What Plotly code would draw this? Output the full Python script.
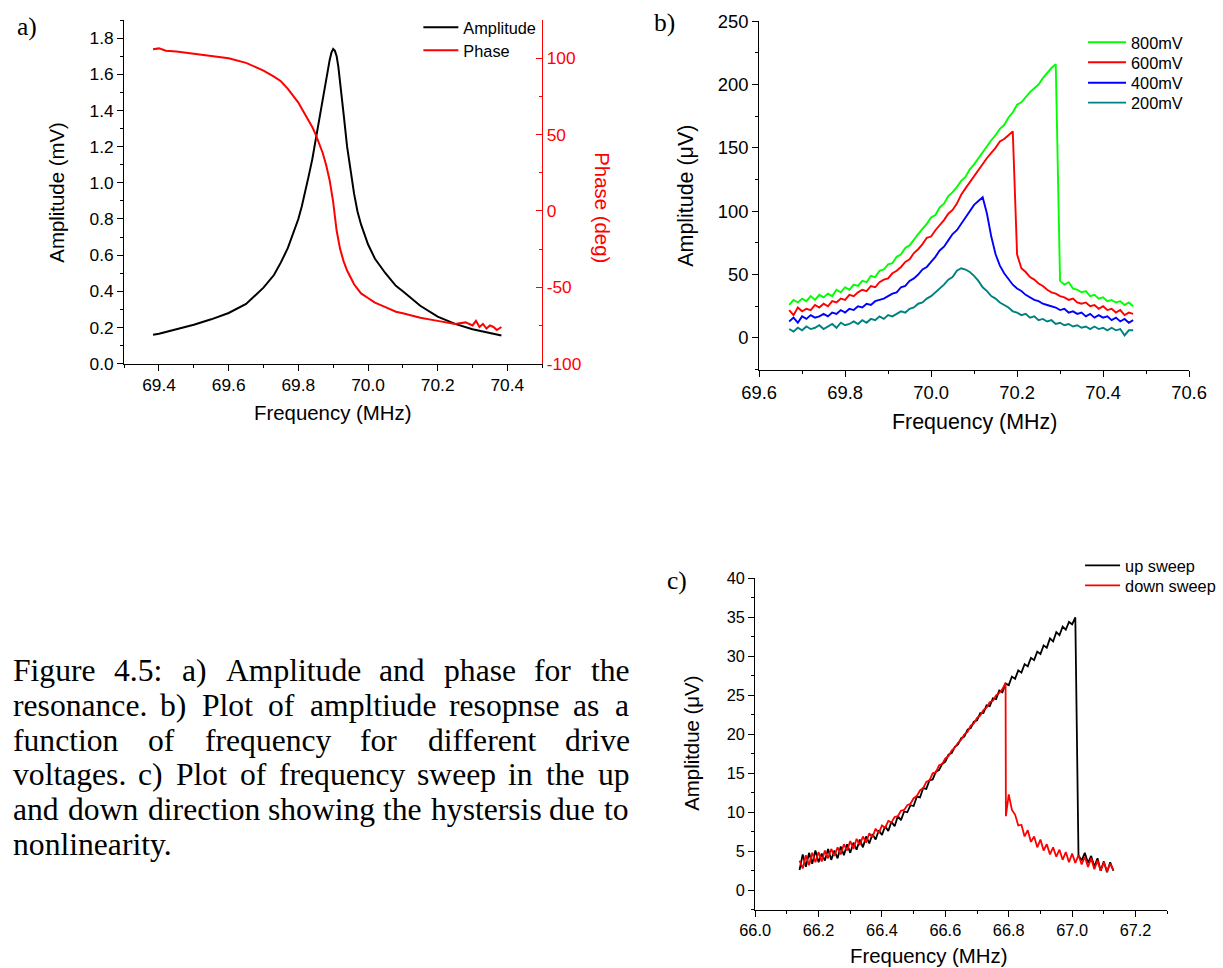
import plotly.graph_objects as go

# ---------------- page geometry ----------------
# Positions below are given in pixels of the target 1223x968 picture and mapped to
# figure coordinates (the page adds an 8px body margin and the capture is scaled).
S = 0.98
OFFX, OFFY = 5.0, 1.0
MARGIN = 8
FW, FH = 1232, 976

# ---------------- data: panel a ----------------
freq_amp_a = [69.383, 69.40, 69.45, 69.50, 69.55, 69.60, 69.65, 69.70, 69.73, 69.75,
              69.77, 69.79, 69.80, 69.81, 69.82, 69.83, 69.84, 69.85, 69.86, 69.87,
              69.88, 69.89, 69.895, 69.90, 69.905, 69.91, 69.915, 69.92, 69.93, 69.94,
              69.95, 69.96, 69.97, 69.98, 70.00, 70.02, 70.05, 70.08, 70.10, 70.15,
              70.20, 70.25, 70.30, 70.35, 70.383]
amplitude_a = [0.16, 0.165, 0.19, 0.215, 0.245, 0.28, 0.33, 0.42, 0.49, 0.56,
               0.64, 0.74, 0.80, 0.87, 0.95, 1.04, 1.13, 1.24, 1.35, 1.47,
               1.59, 1.68, 1.72, 1.74, 1.73, 1.70, 1.64, 1.56, 1.38, 1.20,
               1.06, 0.94, 0.84, 0.77, 0.66, 0.58, 0.50, 0.43, 0.40, 0.32,
               0.26, 0.22, 0.19, 0.17, 0.155]
freq_phase_a = [69.383, 69.40, 69.42, 69.45, 69.50, 69.55, 69.60, 69.65, 69.70, 69.73,
                69.75, 69.77, 69.79, 69.80, 69.81, 69.82, 69.83, 69.84, 69.85, 69.86,
                69.87, 69.88, 69.89, 69.90, 69.905, 69.91, 69.92, 69.93, 69.94, 69.95,
                69.96, 69.97, 69.98, 70.00, 70.02, 70.05, 70.08, 70.10, 70.15, 70.20,
                70.25, 70.28, 70.30, 70.31, 70.32, 70.33, 70.34, 70.35, 70.36, 70.37,
                70.383]
phase_a = [106, 106.5, 105, 104.5, 103, 101.5, 100, 97, 92, 88,
           85, 80, 74, 71, 67, 63, 59, 55, 50, 44,
           38, 30, 20, 6, -3, -13, -25, -33, -39, -44,
           -48, -51, -54, -57, -60, -63, -66, -67, -70, -72,
           -74, -73, -75, -72, -76, -74, -77, -75, -76, -78,
           -76]

# ---------------- data: panel b ----------------
freq_b = [69.67, 69.68, 69.69, 69.70, 69.71, 69.72, 69.73, 69.74, 69.75, 69.76,
          69.77, 69.78, 69.79, 69.80, 69.81, 69.82, 69.83, 69.84, 69.85, 69.86,
          69.87, 69.88, 69.89, 69.90, 69.91, 69.92, 69.93, 69.94, 69.95, 69.96,
          69.97, 69.98, 69.99, 70.00, 70.01, 70.02, 70.03, 70.04, 70.05, 70.06,
          70.07, 70.08, 70.09, 70.10, 70.11, 70.12, 70.13, 70.14, 70.15, 70.16,
          70.17, 70.18, 70.19, 70.20, 70.21, 70.22, 70.23, 70.24, 70.25, 70.26,
          70.27, 70.28, 70.29, 70.30, 70.31, 70.32, 70.33, 70.34, 70.35, 70.36,
          70.37, 70.38, 70.39, 70.40, 70.41, 70.42, 70.43, 70.44, 70.45, 70.46,
          70.47]
amp_800mV = [26, 30, 28, 31, 29, 33, 30, 34, 32, 35,
             33, 38, 36, 40, 38, 42, 41, 45, 44, 49,
             48, 53, 54, 58, 59, 64, 66, 71, 73, 78,
             82, 86, 90, 95, 97, 103, 106, 112, 115, 119,
             124, 127, 133, 137, 142, 146, 151, 156, 160, 165,
             168, 174, 178, 184, 186, 190, 194, 197, 200, 205,
             209, 213, 216, 45, 42, 44, 39, 38, 36, 37,
             33, 34, 31, 32, 29, 30, 28, 29, 26, 28,
             25]
amp_600mV = [22, 18, 24, 21, 23, 22, 26, 24, 27, 25,
             29, 28, 31, 30, 34, 33, 36, 38, 37, 41,
             40, 44, 46, 47, 51, 53, 56, 60, 62, 67,
             70, 74, 79, 80, 85, 89, 93, 98, 101, 106,
             113, 118, 123, 128, 133, 137, 142, 146, 150, 155,
             157, 160, 163, 66, 55, 52, 48, 46, 43, 41,
             38, 36, 35, 33, 32, 30, 31, 28, 27, 28,
             25, 26, 23, 25, 22, 23, 20, 22, 18, 20,
             19]
amp_400mV = [13, 16, 12, 17, 15, 18, 16, 17, 19, 17,
             20, 19, 22, 20, 23, 22, 25, 24, 27, 26,
             29, 30, 31, 33, 35, 36, 40, 41, 45, 47,
             50, 54, 56, 60, 64, 69, 72, 77, 82, 85,
             90, 96, 100, 105, 108, 111, 98, 80, 66, 57,
             51, 46, 42, 39, 37, 34, 32, 30, 29, 27,
             26, 25, 24, 22, 23, 20, 21, 19, 20, 17,
             19, 16, 18, 16, 17, 14, 16, 13, 15, 12,
             14]
amp_200mV = [7, 5, 8, 6, 9, 7, 8, 10, 7, 9,
             11, 8, 12, 10, 11, 13, 11, 14, 12, 15,
             14, 17, 15, 18, 17, 19, 21, 20, 23, 24,
             27, 28, 31, 33, 36, 39, 42, 46, 48, 53,
             55, 54, 52, 49, 45, 40, 37, 33, 31, 28,
             26, 24, 21, 20, 18, 19, 16, 17, 14, 15,
             13, 14, 11, 12, 10, 11, 9, 10, 8, 9,
             7, 9, 7, 8, 6, 8, 6, 7, 2, 6,
             6]
series_b = [("800mV", amp_800mV, "#00FF00"), ("600mV", amp_600mV, "#FF0000"),
            ("400mV", amp_400mV, "#0000FF"), ("200mV", amp_200mV, "#008080")]

# ---------------- data: panel c ----------------
freq_c = [66.14, 66.15, 66.16, 66.17, 66.18, 66.19, 66.20, 66.21, 66.22, 66.23,
          66.24, 66.25, 66.26, 66.27, 66.28, 66.29, 66.30, 66.31, 66.32, 66.33,
          66.34, 66.35, 66.36, 66.37, 66.38, 66.39, 66.40, 66.41, 66.42, 66.43,
          66.44, 66.45, 66.46, 66.47, 66.48, 66.49, 66.50, 66.51, 66.52, 66.53,
          66.54, 66.55, 66.56, 66.57, 66.58, 66.59, 66.60, 66.61, 66.62, 66.63,
          66.64, 66.65, 66.66, 66.67, 66.68, 66.69, 66.70, 66.71, 66.72, 66.73,
          66.74, 66.75, 66.76, 66.77, 66.78, 66.79, 66.80, 66.81, 66.82, 66.83,
          66.84, 66.85, 66.86, 66.87, 66.88, 66.89, 66.90, 66.91, 66.92, 66.93,
          66.94, 66.95, 66.96, 66.97, 66.98, 66.99, 67.00, 67.01, 67.02, 67.03,
          67.04, 67.05, 67.06, 67.07, 67.08, 67.09, 67.10, 67.11, 67.12, 67.13]
up_sweep = [2.6, 4.6, 3.0, 4.8, 3.4, 5.1, 3.6, 4.7, 3.8, 5.3,
            3.9, 5.1, 4.1, 5.6, 4.5, 5.9, 4.8, 6.1, 5.2, 6.5,
            5.5, 6.9, 6.0, 7.2, 6.5, 7.7, 7.1, 8.2, 7.6, 8.8,
            8.2, 9.5, 9.0, 10.1, 10.0, 10.9, 10.8, 12.0, 11.9, 13.1,
            13.0, 14.1, 14.2, 15.2, 15.4, 16.2, 16.5, 17.4, 17.6, 18.4,
            18.7, 19.5, 19.7, 20.6, 20.8, 21.6, 21.8, 22.7, 22.7, 23.7,
            23.6, 24.6, 24.5, 25.6, 25.4, 26.5, 26.3, 27.4, 27.1, 28.2,
            27.9, 29.0, 28.7, 29.8, 29.5, 30.6, 30.3, 31.4, 31.1, 32.3,
            31.9, 33.1, 32.7, 33.8, 33.4, 34.4, 34.1, 35.0, 4.5, 3.8,
            4.8, 3.5, 4.4, 3.0, 4.1, 2.5, 3.7, 2.3, 3.6, 2.5]
down_jump_freq = 66.791
down_sweep_freq = freq_c[:66] + [down_jump_freq] + freq_c[66:]
down_sweep = [3.8, 2.8, 4.5, 3.2, 4.8, 3.6, 4.9, 3.7, 5.1, 4.1,
              5.3, 4.4, 5.5, 4.6, 5.9, 5.1, 6.3, 5.3, 6.6, 5.8,
              6.9, 6.1, 7.3, 6.8, 7.9, 7.3, 8.3, 8.0, 8.9, 8.7,
              9.4, 9.5, 10.2, 10.3, 10.9, 11.1, 11.8, 12.1, 12.8, 13.1,
              13.9, 14.1, 15.0, 15.1, 16.0, 16.2, 16.9, 17.2, 17.9, 18.3,
              18.9, 19.3, 20.0, 20.3, 21.1, 21.4, 22.1, 22.4, 23.1, 23.4,
              24.1, 24.3, 25.0, 25.3, 25.8, 26.6,
              9.5,
              12.3, 10.3, 9.7, 8.3,
              8.4, 6.9, 7.7, 6.2, 6.9, 5.5, 6.5, 5.1, 5.9, 4.6,
              5.5, 4.3, 5.2, 3.9, 4.9, 3.6, 4.7, 3.5, 4.5, 3.3,
              4.3, 3.0, 4.1, 2.7, 3.8, 2.5, 3.6, 2.4, 3.4, 2.6]

caption_lines = [
    "Figure 4.5: a) Amplitude and phase for the",
    "resonance. b) Plot of ampltiude resopnse as a",
    "function of frequency for different drive",
    "voltages. c) Plot of frequency sweep in the up",
    "and down direction showing the hystersis due to",
    "nonlinearity.",
]


# ---------------- helpers ----------------
def fx(x):  # picture px -> figure px
    return (x - OFFX) / S - MARGIN


def fy(y):
    return (y - OFFY) / S - MARGIN


def px(x):
    return fx(x) / FW


def py(y):
    return 1 - fy(y) / FH


def fs(size):
    return size / S


SANS = "Arial, Liberation Sans, sans-serif"
SERIF = "Times New Roman, Liberation Serif, serif"

fig = go.Figure()

# panel a
fig.add_trace(go.Scatter(x=freq_amp_a, y=amplitude_a, mode="lines", name="Amplitude",
                         line=dict(color="black", width=2), xaxis="x", yaxis="y",
                         legend="legend"))
fig.add_trace(go.Scatter(x=freq_phase_a, y=phase_a, mode="lines", name="Phase",
                         line=dict(color="#FF0000", width=2), xaxis="x", yaxis="y2",
                         legend="legend2"))
# panel b
for i, (name, vals, col) in enumerate(series_b):
    fig.add_trace(go.Scatter(x=freq_b, y=vals, mode="lines", name=name,
                             line=dict(color=col, width=1.9), xaxis="x2", yaxis="y3",
                             legend="legend%d" % (3 + i)))
# panel c
fig.add_trace(go.Scatter(x=freq_c, y=up_sweep, mode="lines", name="up sweep",
                         line=dict(color="black", width=1.8), xaxis="x3", yaxis="y4",
                         legend="legend7"))
fig.add_trace(go.Scatter(x=down_sweep_freq, y=down_sweep, mode="lines", name="down sweep",
                         line=dict(color="#FF0000", width=1.8), xaxis="x3", yaxis="y4",
                         legend="legend8"))


def axis(rng, dom, dtick, minor, fmt, anchor, fsize, color="black", side=None,
         ticks="outside"):
    d = dict(range=rng, domain=dom, dtick=dtick, tickformat=fmt, anchor=anchor,
             showline=True, linecolor=color, linewidth=1, ticks=ticks,
             ticklen=6, tickwidth=1, tickcolor=color, showgrid=False, zeroline=False,
             tickfont=dict(family=SANS, size=fs(fsize), color=color),
             minor=dict(dtick=minor, ticks=ticks, ticklen=3, tickcolor=color,
                        tickwidth=1, showgrid=False))
    if side:
        d["side"] = side
    return d


a_x = [px(120), px(542)]
a_y = [py(362), py(18)]
b_x = [px(761), px(1195)]
b_y = [py(368), py(19)]
c_x = [px(757), px(1173)]
c_y = [py(909), py(577)]

layout_axes = dict(
    xaxis=axis([69.3, 70.5], a_x, 0.2, 0.1, ".1f", "y", 17),
    yaxis=axis([0, 1.9], a_y, 0.2, 0.1, ".1f", "x", 17),
    yaxis2=dict(axis([-100, 125], a_y, None, 25, "", "x", 17, color="#FF0000",
                     side="right", ticks="inside"),
                overlaying="y", tickmode="array", tickvals=[-100, -50, 0, 50, 100],
                ticktext=["-100", "-50", "0", "50", "100"]),
    xaxis2=axis([69.6, 70.6], b_x, 0.2, 0.1, ".1f", "y3", 18),
    yaxis3=axis([-25, 250], b_y, 50, 25, "d", "x2", 18),
    xaxis3=axis([66.0, 67.3], c_x, 0.2, 0.1, ".1f", "y4", 16),
    yaxis4=axis([-2.5, 40], c_y, 5, 2.5, "d", "x3", 16),
)
layout_axes["yaxis2"].pop("dtick")

LEG_DY = 16  # px from legend top to the centre of its single row


def legend_at(text_x, row_y, item_w):
    return dict(bgcolor="rgba(0,0,0,0)", borderwidth=0, xanchor="left", yanchor="top",
                font=dict(family=SANS, size=fs(16), color="black"), itemwidth=item_w,
                x=px(text_x - 10 - item_w), y=py(row_y - LEG_DY))


legends = {
    "legend": legend_at(462, 24, 35),
    "legend2": legend_at(462, 47, 35),
    "legend3": legend_at(1136, 39, 38),
    "legend4": legend_at(1136, 59, 38),
    "legend5": legend_at(1136, 79.5, 38),
    "legend6": legend_at(1136, 99.5, 38),
    "legend7": legend_at(1130, 563, 35),
    "legend8": legend_at(1130, 583, 35),
}

annotations = []


def ann(text, x, y, size, family=SANS, color="black", angle=0, xanchor="center",
        yanchor="middle"):
    annotations.append(dict(text=text, x=px(x), y=py(y), xref="paper", yref="paper",
                            showarrow=False, textangle=angle, xanchor=xanchor,
                            yanchor=yanchor,
                            font=dict(family=family, size=fs(size), color=color)))


# axis titles
ann("Frequency (MHz)", 331, 411, 20)
ann("Amplitude (mV)", 52, 190, 20, angle=-90)
ann("Phase (deg)", 603, 206, 20, color="#FF0000", angle=90)
ann("Frequency (MHz)", 978, 420, 21)
ann("Amplitude (\u03bcV)", 687, 194, 21, angle=-90)
ann("Frequency (MHz)", 932, 955, 20)
ann("Amplitdue (\u03bcV)", 693, 742, 20, angle=-90)

# panel labels
ann("a)", 10, 24, 25, family=SERIF, xanchor="left")
ann("b)", 653, 20, 25, family=SERIF, xanchor="left")
ann("c)", 666, 579, 25, family=SERIF, xanchor="left")

# caption, justified word by word (Times metrics)
TIMES = {" ": 250, ".": 250, ":": 278, ")": 333, "(": 333, "4": 500, "5": 500,
         "a": 444, "b": 500, "c": 444, "d": 500, "e": 444, "f": 333, "g": 500,
         "h": 500, "i": 278, "j": 278, "k": 500, "l": 278, "m": 778, "n": 500,
         "o": 500, "p": 500, "q": 500, "r": 333, "s": 389, "t": 278, "u": 500,
         "v": 500, "w": 722, "x": 500, "y": 500, "z": 444, "F": 556, "A": 722,
         "P": 556}
CAP_SIZE = 31
CAP_LEFT, CAP_RIGHT = 6, 627
CAP_TOP, CAP_STEP = 669, 35


def tw(s):
    return sum(TIMES.get(ch, 500) for ch in s) / 1000 * CAP_SIZE


for i, line in enumerate(caption_lines):
    yy = CAP_TOP + i * CAP_STEP
    words = line.split()
    if i == len(caption_lines) - 1 or len(words) == 1:
        ann(line, CAP_LEFT, yy, CAP_SIZE, family=SERIF, xanchor="left")
        continue
    natural = sum(tw(w) for w in words)
    gap = (CAP_RIGHT - CAP_LEFT - natural) / (len(words) - 1)
    cur = CAP_LEFT
    for w in words:
        ann(w, cur, yy, CAP_SIZE, family=SERIF, xanchor="left")
        cur += tw(w) + gap

fig.update_layout(
    width=FW, height=FH, margin=dict(l=0, r=0, t=0, b=0, pad=0),
    paper_bgcolor="white", plot_bgcolor="white",
    showlegend=True,
    annotations=annotations,
    **legends,
    **layout_axes,
)

fig.write_html("out.html")
